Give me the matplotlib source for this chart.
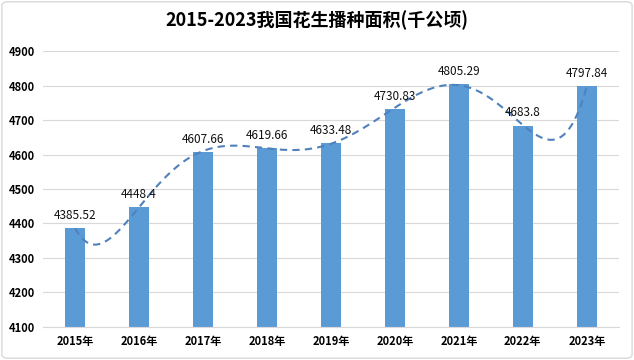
import numpy as np
import matplotlib
matplotlib.use("Agg")
import matplotlib.pyplot as plt
from matplotlib.patches import FancyBboxPatch

plt.rcParams['font.family'] = ['Noto Sans CJK SC', 'DejaVu Sans']

years = ['2015年', '2016年', '2017年', '2018年', '2019年', '2020年', '2021年', '2022年', '2023年']
area = [4385.52, 4448.4, 4607.66, 4619.66, 4633.48, 4730.83, 4805.29, 4683.8, 4797.84]
labels = ['4385.52', '4448.4', '4607.66', '4619.66', '4633.48', '4730.83', '4805.29', '4683.8', '4797.84']
title = '2015-2023我国花生播种面积(千公顷)'

bar_color = '#5B9BD5'
line_color = '#5081BD'

fig = plt.figure(figsize=(6.34, 3.6), dpi=100)
ax = fig.add_axes([0.068, 0.092, 0.908, 0.766])

x = np.arange(len(years))
ax.bar(x, area, width=0.32, color=bar_color, zorder=2)

# polynomial trendline (order 6), like the spreadsheet one
coef = np.polyfit(x, area, 6)
xs = np.linspace(x[0], x[-1], 300)
ax.plot(xs, np.polyval(coef, xs), color=line_color, lw=1.5,
        dashes=(3.5, 2.5), zorder=3)

for xi, v, t in zip(x, area, labels):
    ax.text(xi, v + 18, t, ha='center', va='bottom', fontsize=8.5,
            fontweight='medium', color='#111111', zorder=4)

ax.set_xlim(-0.5, len(years) - 0.5)
ax.set_ylim(4100, 4900)
ax.set_yticks(np.arange(4100, 4901, 100))
ax.set_xticks(x)
ax.set_xticklabels(years, fontsize=8, fontweight='bold')
for lab in ax.get_yticklabels():
    lab.set_fontsize(8)
    lab.set_fontweight('bold')
ax.tick_params(length=0, pad=6)
ax.grid(axis='y', color='#D9D9D9', lw=0.8, zorder=0)
for s in ['top', 'right', 'left']:
    ax.spines[s].set_visible(False)
ax.spines['bottom'].set_color('#D9D9D9')

fig.text(0.5, 0.944, title, ha='center', va='center', fontsize=13, fontweight='bold')

border = FancyBboxPatch((0.003, 0.005), 0.994, 0.99, boxstyle='round,pad=0,rounding_size=0.01',
                        transform=fig.transFigure, fill=False, edgecolor='#D9D9D9', lw=1)
fig.patches.append(border)

fig.savefig('out.png', dpi=100)
